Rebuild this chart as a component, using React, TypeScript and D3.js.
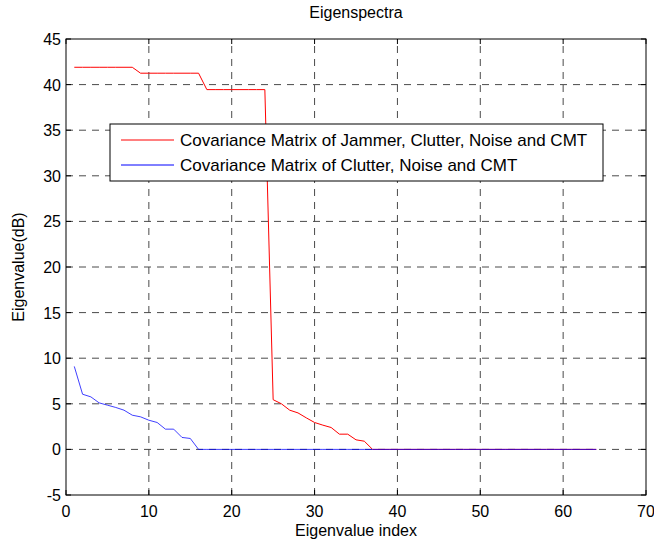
import React from "react";
import * as d3 from "d3";

const redValues: number[] = [
  41.9, 41.9, 41.9, 41.9, 41.9, 41.9, 41.9, 41.9,
  41.25, 41.25, 41.25, 41.25, 41.25, 41.25, 41.25, 41.25,
  39.45, 39.45, 39.45, 39.45, 39.45, 39.45, 39.45, 39.45,
  5.45, 5.0, 4.3, 4.0, 3.46, 2.95, 2.66, 2.4, 1.67, 1.67, 1.05, 0.9,
  0, 0, 0, 0, 0, 0, 0, 0, 0, 0, 0, 0, 0, 0, 0, 0, 0, 0, 0, 0, 0, 0, 0, 0, 0, 0, 0, 0,
];

const blueValues: number[] = [
  9.1, 6.05, 5.76, 5.1, 4.85, 4.6, 4.3, 3.75, 3.57, 3.2, 2.95, 2.22, 2.22, 1.31, 1.2,
  0, 0, 0, 0, 0, 0, 0, 0, 0, 0, 0, 0, 0, 0, 0, 0, 0, 0, 0, 0, 0, 0, 0, 0, 0, 0, 0, 0,
  0, 0, 0, 0, 0, 0, 0, 0, 0, 0, 0, 0, 0, 0, 0, 0, 0, 0, 0, 0, 0,
];

const xTicks: number[] = [0, 10, 20, 30, 40, 50, 60, 70];
const yTicks: number[] = [-5, 0, 5, 10, 15, 20, 25, 30, 35, 40, 45];

const seriesLabels: string[] = [
  "Covariance Matrix of Jammer, Clutter, Noise and CMT",
  "Covariance Matrix of Clutter, Noise and CMT",
];
const seriesColors: string[] = ["#ff0000", "#0000ff"];

const titleText = "Eigenspectra";
const xLabelText = "Eigenvalue index";
const yLabelText = "Eigenvalue(dB)";

const W = 654;
const H = 543;
const M = { left: 66, right: 8, top: 39, bottom: 48 };

export default function App() {
  const x = d3.scaleLinear().domain([0, 70]).range([M.left, W - M.right]);
  const y = d3.scaleLinear().domain([-5, 45]).range([H - M.bottom, M.top]);
  const line = d3
    .line<number>()
    .x((_, i) => x(i + 1))
    .y((d) => y(d));
  const font = "'Liberation Sans', Arial, Helvetica, sans-serif";
  const x0 = M.left;
  const x1 = W - M.right;
  const y0 = H - M.bottom;
  const y1 = M.top;
  const tickLen = 5;
  const grid = "#4a4a4a";
  const fs = 16;

  const legX = 110, legY = 124, legW = 493, legH = 57;

  return (
    <svg
      width={W}
      height={H}
      style={{ position: "absolute", left: 0, top: 0, background: "#fff" }}
      fontFamily={font}
    >
      <rect x={0} y={0} width={W} height={H} fill="#fff" />
      {/* grid */}
      {xTicks.slice(1, -1).map((t) => (
        <line key={"gx" + t} x1={x(t)} x2={x(t)} y1={y0} y2={y1} stroke={grid} strokeWidth={1} strokeDasharray="7,6" />
      ))}
      {yTicks.slice(1, -1).map((t) => (
        <line key={"gy" + t} x1={x0} x2={x1} y1={y(t)} y2={y(t)} stroke={grid} strokeWidth={1} strokeDasharray="7,6" />
      ))}
      {/* lines */}
      <path d={line(redValues) || ""} fill="none" stroke={seriesColors[0]} strokeWidth={1} />
      <path d={line(blueValues) || ""} fill="none" stroke={seriesColors[1]} strokeWidth={1} strokeOpacity={0.75} />
      {/* box */}
      <rect x={x0} y={y1} width={x1 - x0} height={y0 - y1} fill="none" stroke="#000" strokeWidth={1} />
      {/* ticks */}
      {xTicks.map((t) => (
        <g key={"tx" + t}>
          <line x1={x(t)} x2={x(t)} y1={y0} y2={y0 - tickLen} stroke="#000" />
          <line x1={x(t)} x2={x(t)} y1={y1} y2={y1 + tickLen} stroke="#000" />
          <text x={x(t)} y={y0 + 22} fontSize={fs} textAnchor="middle" fill="#000">
            {t}
          </text>
        </g>
      ))}
      {yTicks.map((t) => (
        <g key={"ty" + t}>
          <line x1={x0} x2={x0 + tickLen} y1={y(t)} y2={y(t)} stroke="#000" />
          <line x1={x1} x2={x1 - tickLen} y1={y(t)} y2={y(t)} stroke="#000" />
          <text x={x0 - 5} y={y(t) + 6} fontSize={fs} textAnchor="end" fill="#000">
            {t}
          </text>
        </g>
      ))}
      {/* titles */}
      <text x={(x0 + x1) / 2} y={18} fontSize={fs} textAnchor="middle" fill="#000">
        {titleText}
      </text>
      <text x={(x0 + x1) / 2} y={y0 + 41} fontSize={fs} textAnchor="middle" fill="#000">
        {xLabelText}
      </text>
      <text
        transform={`translate(24, ${(y0 + y1) / 2}) rotate(-90)`}
        fontSize={fs}
        textAnchor="middle"
        fill="#000"
      >
        {yLabelText}
      </text>
      {/* legend */}
      <rect x={legX} y={legY} width={legW} height={legH} fill="#fff" stroke="#000" strokeWidth={1} />
      {seriesLabels.map((s, i) => (
        <g key={s}>
          <line x1={legX + 11} x2={legX + 64} y1={legY + 16 + i * 25} y2={legY + 16 + i * 25} stroke={seriesColors[i]} />
          <text x={legX + 70} y={legY + 22 + i * 25} fontSize={17} fill="#000">
            {s}
          </text>
        </g>
      ))}
    </svg>
  );
}
